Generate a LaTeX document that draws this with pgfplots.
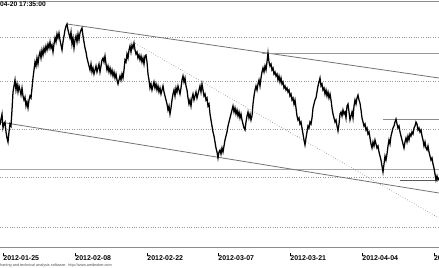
\documentclass[border=0pt]{standalone}
\usepackage{pgfplots}
\pgfplotsset{compat=1.18}
\usepackage{fontspec}
\setmainfont{Liberation Sans}
\newcommand\tk{\rule[4.5bp]{0.5bp}{2.5bp}}
\pgfplotstableread{
x y
0 125
1 119
2 114
3 128
4 124
5 122
6 132
7 138
8 142
9 132
10 124
11 126
12 110
13 92
14 86
15 80
16 90
17 84
18 92
19 86
20 90
21 95
22 88
23 96
24 100
25 97
26 106
27 102
28 108
29 100
30 96
31 98
32 88
33 78
34 70
35 62
36 66
37 58
38 64
39 56
40 52
41 58
42 50
43 55
44 48
45 52
46 46
47 50
48 44
49 48
50 42
51 48
52 45
53 52
54 44
55 38
56 42
57 34
58 38
59 33
60 40
61 45
62 50
63 42
64 36
65 30
66 26
67 24
68 30
69 34
70 38
71 32
72 44
73 38
74 48
75 40
76 36
77 42
78 34
79 40
80 33
81 30
82 28
83 36
84 42
85 48
86 52
87 58
88 62
89 66
90 70
91 64
92 72
93 68
94 74
95 70
96 66
97 72
98 68
99 64
100 72
101 66
102 60
103 58
104 62
105 56
106 64
107 70
108 66
109 72
110 68
111 74
112 70
113 76
114 72
115 78
116 74
117 80
118 84
119 80
120 76
121 80
122 74
123 78
124 70
125 60
126 62
127 54
128 58
129 50
130 46
131 52
132 45
133 48
134 43
135 50
136 54
137 52
138 58
139 55
140 60
141 56
142 62
143 58
144 64
145 56
146 55
147 62
148 74
149 80
150 88
151 84
152 90
153 86
154 82
155 88
156 84
157 90
158 86
159 92
160 88
161 94
162 90
163 86
164 92
165 96
166 100
167 104
168 110
169 106
170 114
171 108
172 100
173 94
174 90
175 96
176 88
177 92
178 86
179 90
180 94
181 88
182 80
183 76
184 82
185 78
186 86
187 90
188 98
189 104
190 100
191 106
192 98
193 94
194 100
195 96
196 92
197 98
198 94
199 90
200 86
201 92
202 84
203 90
204 96
205 94
206 100
207 98
208 106
209 104
210 114
211 120
212 126
213 132
214 136
215 142
216 148
217 152
218 158
219 152
220 150
221 154
222 148
223 152
224 146
225 140
226 136
227 132
228 126
229 122
230 118
231 114
232 110
233 106
234 112
235 108
236 114
237 110
238 116
239 112
240 118
241 114
242 120
243 124
244 128
245 130
246 122
247 116
248 112
249 118
250 114
251 120
252 116
253 104
254 96
255 90
256 86
257 90
258 84
259 80
260 86
261 78
262 72
263 68
264 72
265 66
266 70
267 62
268 53
269 62
270 66
271 64
272 70
273 68
274 74
275 72
276 76
277 74
278 80
279 76
280 82
281 78
282 84
283 82
284 88
285 86
286 90
287 88
288 92
289 90
290 96
291 94
292 100
293 98
294 104
295 100
296 108
297 116
298 120
299 118
300 124
301 122
302 128
303 134
304 140
305 145
306 138
307 132
308 126
309 128
310 122
311 124
312 118
313 108
314 104
315 100
316 98
317 92
318 86
319 82
320 78
321 86
322 84
323 90
324 88
325 94
326 90
327 96
328 92
329 98
330 94
331 100
332 108
333 114
334 118
335 122
336 120
337 126
338 131
339 124
340 114
341 112
342 116
343 110
344 114
345 112
346 118
347 106
348 104
349 112
350 120
351 116
352 112
353 118
354 106
355 100
356 104
357 98
358 95
359 100
360 103
361 110
362 118
363 122
364 126
365 124
366 130
367 128
368 134
369 132
370 138
371 144
372 148
373 142
374 146
375 140
376 144
377 148
378 146
379 152
380 156
381 160
382 166
383 172
384 164
385 156
386 160
387 154
388 146
389 140
390 144
391 136
392 132
393 128
394 126
395 122
396 119
397 124
398 128
399 126
400 132
401 136
402 140
403 144
404 148
405 142
406 138
407 142
408 136
409 140
410 134
411 136
412 132
413 134
414 128
415 126
416 122
417 124
418 130
419 128
420 132
421 130
422 136
423 140
424 146
425 142
426 148
427 150
428 146
429 152
430 156
431 160
432 158
433 164
434 168
435 174
436 180
437 176
438 180
439 178
}\price
\begin{document}
\begin{tikzpicture}
\useasboundingbox (0,0) rectangle (439bp,268bp);
\begin{axis}[
  at={(0,21bp)}, anchor=south west,
  scale only axis, width=439bp, height=246bp,
  xmin=0, xmax=439, ymin=1, ymax=247, y dir=reverse,
  separate axis lines,
  y axis line style={draw=none},
  x axis line style={draw=black!45, line width=0.8bp},
  major tick length=0pt,
  ytick={37.7,81.7,129.3,177.3,227}, yticklabels={},
  ymajorgrids, grid style={dotted, black!40, line width=0.6bp},
  xtick={2.7,74.7,146.7,217.7,289.7,361.7,433.3},
  xticklabels={\tk 2012-01-25,\tk 2012-02-08,\tk 2012-02-22,\tk 2012-03-07,\tk 2012-03-21,\tk 2012-04-04,\tk 2012-04-18},
  xticklabel style={anchor=north west, inner sep=0pt, yshift=-6bp,
     font=\bfseries\fontsize{7}{7}\selectfont},
  clip=false,
]
\addplot[black!35, line width=1.2bp] coordinates {(0,169.5) (439,169.5)};
\addplot[black!55, line width=0.8bp] coordinates {(67,24) (439,78)};
\addplot[black!40, line width=0.9bp] coordinates {(262,53) (439,53)};
\addplot[black!50, dotted, line width=0.6bp] coordinates {(124,37) (439,218)};
\addplot[black!55, line width=0.8bp] coordinates {(0,122) (439,193)};
\addplot[black!45, line width=0.8bp] coordinates {(383,119) (439,119)};
\addplot[black!65, line width=0.8bp] coordinates {(400,180.5) (437,180.5)};
\addplot[black, line width=1.25bp] table[x=x,y=y] {\price};
\node[anchor=north west, inner sep=0pt, font=\bfseries\fontsize{6.7}{7}\selectfont] at (axis cs:0,1.8) {04-20 17:35:00};
\node[anchor=base west, inner sep=0pt, font=\fontsize{3.8}{4}\selectfont, text=black!70] at (axis cs:0,266.5) {harting and technical analysis software.\ \ http://www.amibroker.com};
\end{axis}
\end{tikzpicture}
\end{document}
